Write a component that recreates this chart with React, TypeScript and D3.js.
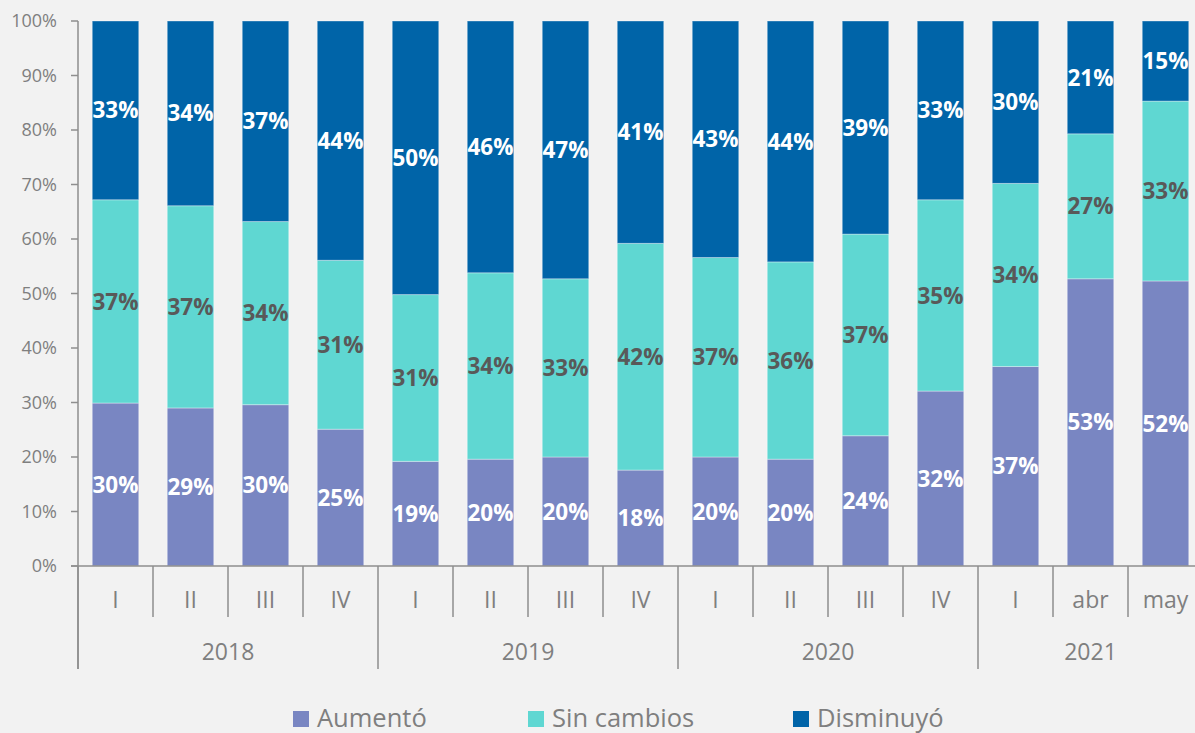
import React from "react";
import * as d3 from "d3";

const periods = ["I", "II", "III", "IV", "I", "II", "III", "IV", "I", "II", "III", "IV", "I", "abr", "may"];
const years = ["2018", "2019", "2020", "2021"];
const yearCounts = [4, 4, 4, 3];
const aumento = [29.9, 29.0, 29.6, 25.1, 19.2, 19.6, 20.0, 17.6, 20.0, 19.6, 23.9, 32.1, 36.6, 52.7, 52.3];
const sinCambios = [37.3, 37.1, 33.6, 31.0, 30.6, 34.2, 32.7, 41.6, 36.6, 36.2, 37.0, 35.1, 33.6, 26.6, 33.0];
const disminuyo = [32.8, 33.9, 36.8, 43.9, 50.2, 46.2, 47.3, 40.8, 43.4, 44.2, 39.1, 32.8, 29.8, 20.7, 14.7];
const seriesNames = ["Aumentó", "Sin cambios", "Disminuyó"];
const seriesColors = ["#7986C2", "#5FD7D2", "#0064A8"];
const labelColors = ["#FFFFFF", "#595959", "#FFFFFF"];
const yTicks = [0, 10, 20, 30, 40, 50, 60, 70, 80, 90, 100];

const W = 1195;
const H = 733;
const left = 78;
const top = 21;
const bottom = 566;
const step = 75;
const axisColor = "#8E8E8E";
const textColor = "#7F7F7F";
const font = "'Open Sans', 'Noto Sans', sans-serif";

export default function App() {
  const idx = periods.map((_, i) => i);
  const x = d3
    .scaleBand<number>()
    .domain(idx)
    .range([left, left + step * periods.length])
    .paddingInner(0.38)
    .paddingOuter(0.19);
  const y = d3.scaleLinear().domain([0, 100]).range([bottom, top]);

  const rows = idx.map((i) => ({ i, a: aumento[i], s: sinCambios[i], d: disminuyo[i] }));
  const stack = d3.stack<any>().keys(["a", "s", "d"]);
  const stacked = stack(rows);

  const boundaries = d3.range(periods.length + 1).map((k) => left + k * x.step());
  const yearStarts: number[] = [];
  let acc = 0;
  yearCounts.forEach((c) => {
    yearStarts.push(acc);
    acc += c;
  });

  const legendX = [293, 528, 793];

  return (
    <svg width={W} height={H} style={{ position: "absolute", left: 0, top: 0, background: "#F2F2F2" }} fontFamily={font}>
      <rect x={0} y={0} width={W} height={H} fill="#F2F2F2" />
      {stacked.map((layer, li) => (
        <g key={li}>
          {layer.map((seg, i) => (
            <rect
              key={i}
              x={x(i)}
              y={y(seg[1])}
              width={x.bandwidth()}
              height={y(seg[0]) - y(seg[1])}
              fill={seriesColors[li]}
              stroke="rgba(255,255,255,0.35)"
              strokeWidth={1}
            />
          ))}
        </g>
      ))}
      {stacked.map((layer, li) => (
        <g key={"l" + li}>
          {layer.map((seg, i) => (
            <text
              key={i}
              x={(x(i) as number) + x.bandwidth() / 2}
              y={(y(seg[0]) + y(seg[1])) / 2}
              dy="0.36em"
              textAnchor="middle"
              fontSize={22.5}
              fontWeight={700}
              fill={labelColors[li]}
            >
              {Math.round(seg[1] - seg[0])}%
            </text>
          ))}
        </g>
      ))}
      {/* y axis */}
      <line x1={left} x2={left} y1={top} y2={669} stroke={axisColor} strokeWidth={1.5} />
      {yTicks.map((t) => (
        <g key={t}>
          <line x1={71} x2={left} y1={y(t)} y2={y(t)} stroke={axisColor} strokeWidth={1.5} />
          <text x={57} y={y(t)} dy="0.36em" textAnchor="end" fontSize={18} fill={textColor}>
            {t}%
          </text>
        </g>
      ))}
      {/* x axis */}
      <line x1={71} x2={W} y1={bottom} y2={bottom} stroke={axisColor} strokeWidth={1.5} />
      {boundaries.map((bx, k) => (
        <line
          key={k}
          x1={bx}
          x2={bx}
          y1={bottom}
          y2={yearStarts.includes(k) || k === periods.length ? 669 : 617}
          stroke={axisColor}
          strokeWidth={1.5}
        />
      ))}
      {periods.map((p, i) => (
        <text key={i} x={(x(i) as number) + x.bandwidth() / 2} y={608} textAnchor="middle" fontSize={23} fill={textColor}>
          {p}
        </text>
      ))}
      {years.map((yr, j) => (
        <text
          key={yr}
          x={left + (yearStarts[j] + yearCounts[j] / 2) * x.step()}
          y={660}
          textAnchor="middle"
          fontSize={23}
          fill={textColor}
        >
          {yr}
        </text>
      ))}
      {/* legend */}
      {seriesNames.map((n, k) => (
        <g key={n}>
          <rect x={legendX[k]} y={711} width={16} height={16} fill={seriesColors[k]} />
          <text x={legendX[k] + 24} y={727} fontSize={25.5} fill={textColor}>
            {n}
          </text>
        </g>
      ))}
    </svg>
  );
}
